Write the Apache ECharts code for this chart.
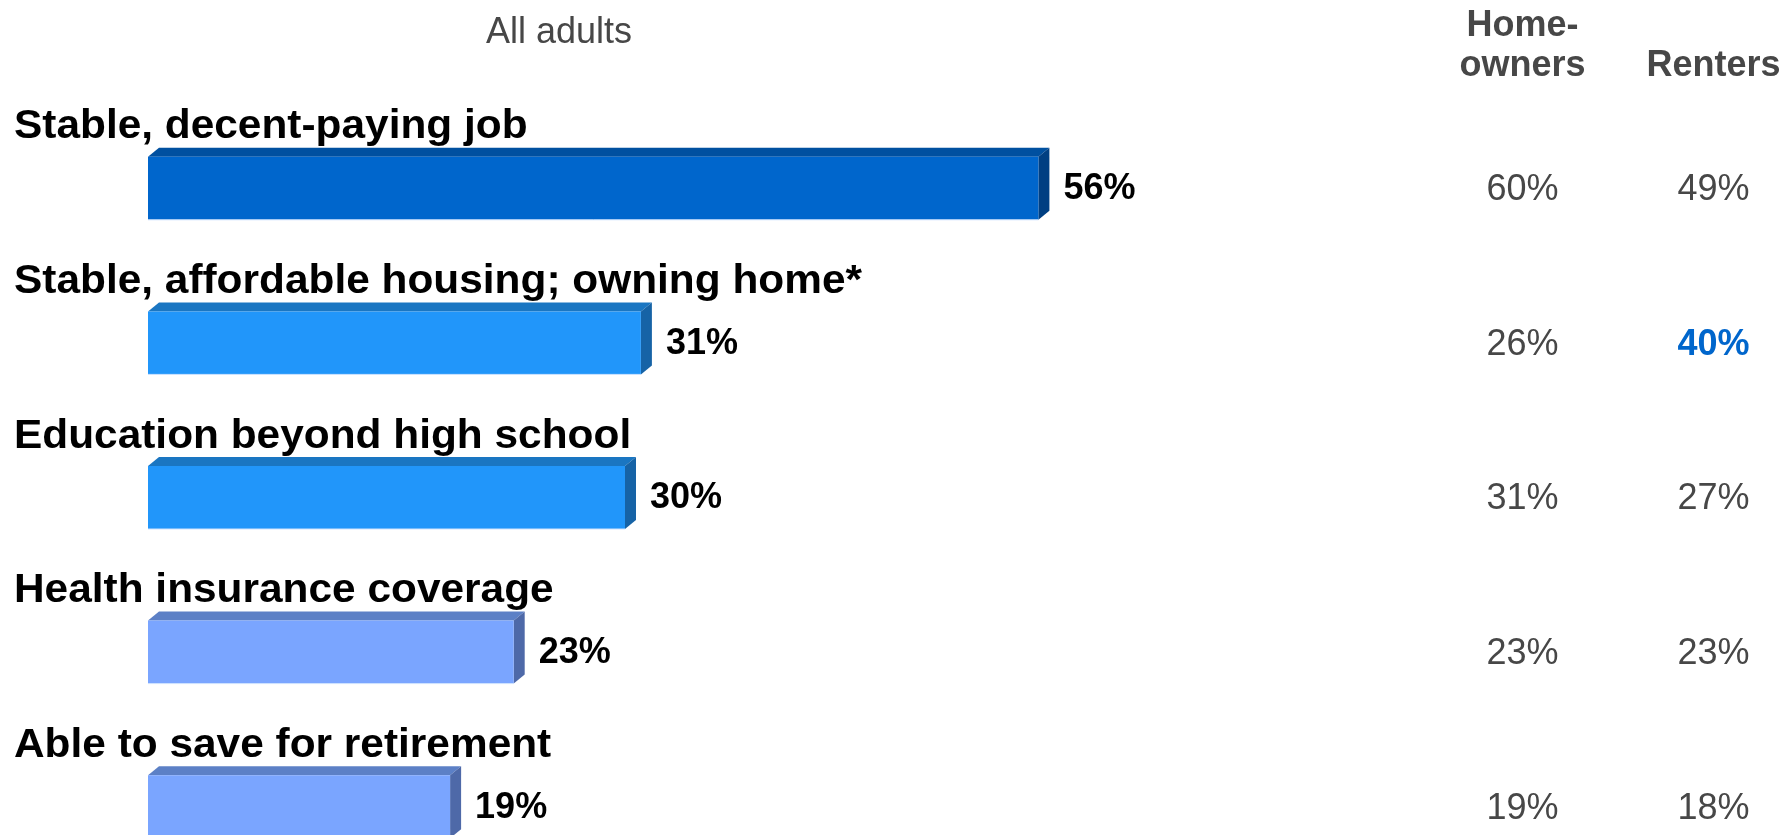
<!DOCTYPE html>
<html>
<head>
<meta charset="utf-8">
<script src="https://cdn.jsdelivr.net/npm/echarts@6/dist/echarts.min.js"></script>
<style>
html,body{margin:0;padding:0;background:#fff;}
#chart{width:1788px;height:835px;}
</style>
</head>
<body>
<div id="chart"></div>
<script>
const categories = [
  'Stable, decent-paying job',
  'Stable, affordable housing; owning home*',
  'Education beyond high school',
  'Health insurance coverage',
  'Able to save for retirement'
];
const allAdults = [56, 31, 30, 23, 19];
const homeowners = [60, 26, 31, 23, 19];
const renters = [49, 40, 27, 23, 18];
const groups = ['Home-\nowners', 'Renters'];
const colorTier = [0, 1, 1, 2, 2];
const highlight = [[1, 1]]; // [group index, row index] shown in blue bold

const palette = [
  {front: '#0066cc', top: '#0050a0', side: '#003f82'},
  {front: '#2196fa', top: '#1a76c2', side: '#1663a6'},
  {front: '#7aa5ff', top: '#5c80c6', side: '#4e69a8'}
];
const FONT = '"Liberation Sans", Arial, sans-serif';

const chart = echarts.init(document.getElementById('chart'));

const barData = allAdults.map((v, i) => [v, i]);
const colData = [];
[homeowners, renters].forEach((arr, g) => {
  arr.forEach((v, i) => {
    const hl = highlight.some(h => h[0] === g && h[1] === i) ? 1 : 0;
    colData.push([g, i, v, hl]);
  });
});

const option = {
  animation: false,
  backgroundColor: '#ffffff',
  grid: [
    {left: 148, width: 1590, top: 111, height: 773, outerBoundsMode: 'none', containLabel: false},
    {left: 1427, width: 382, top: 111, height: 773, outerBoundsMode: 'none', containLabel: false}
  ],
  xAxis: [
    {gridIndex: 0, type: 'value', min: 0, max: 100, show: false},
    {
      gridIndex: 1, type: 'category', data: groups, position: 'top',
      axisLine: {show: false}, axisTick: {show: false}, splitLine: {show: false},
      axisLabel: {
        margin: 25, fontSize: 36, fontWeight: 'bold', color: '#474747',
        lineHeight: 40, fontFamily: FONT, interval: 0
      }
    }
  ],
  yAxis: [
    {gridIndex: 0, type: 'category', data: categories, inverse: true, show: false},
    {gridIndex: 1, type: 'category', data: categories, inverse: true, show: false}
  ],
  graphic: [{
    type: 'text', x: 559, y: 33,
    style: {text: 'All adults', fill: '#474747', font: '36px ' + FONT, align: 'center', verticalAlign: 'middle'}
  }],
  series: [
    {
      type: 'custom',
      xAxisIndex: 0, yAxisIndex: 0,
      data: barData,
      renderItem: function (params, api) {
        const v = api.value(0);
        const idx = api.value(1);
        const s = api.coord([0, idx]);
        const e = api.coord([v, idx]);
        const h = 63, dx = 11, dy = 9;
        const x0 = s[0], x1 = e[0];
        const top = s[1] - h / 2, bot = s[1] + h / 2;
        const c = palette[colorTier[idx]];
        return {
          type: 'group',
          children: [
            {type: 'polygon', shape: {points: [[x0, top], [x0 + dx, top - dy], [x1 + dx, top - dy], [x1, top]]}, style: {fill: c.top}},
            {type: 'polygon', shape: {points: [[x1, top], [x1 + dx, top - dy], [x1 + dx, bot - dy], [x1, bot]]}, style: {fill: c.side}},
            {type: 'rect', shape: {x: x0, y: top, width: x1 - x0, height: h}, style: {fill: c.front}},
            {type: 'line', shape: {x1: x0, y1: bot, x2: x1, y2: bot}, style: {stroke: '#cfe3ff', lineWidth: 1}},
            {type: 'text', x: x1 + dx + 14, y: s[1] + 1,
              style: {text: v + '%', fill: '#000', font: 'bold 36px ' + FONT, align: 'left', verticalAlign: 'middle'}},
            {type: 'text', x: x0 - 134, y: s[1] - 61, scaleX: 1.06,
              style: {text: categories[idx], fill: '#000', font: 'bold 40px ' + FONT, align: 'left', verticalAlign: 'middle'}}
          ]
        };
      }
    },
    {
      type: 'custom',
      xAxisIndex: 1, yAxisIndex: 1,
      data: colData,
      renderItem: function (params, api) {
        const p = api.coord([api.value(0), api.value(1)]);
        const hl = api.value(3) === 1;
        return {
          type: 'text', x: p[0], y: p[1] + 2,
          style: {
            text: api.value(2) + '%',
            fill: hl ? '#0066cc' : '#474747',
            font: (hl ? 'bold ' : '') + '36px ' + FONT,
            align: 'center', verticalAlign: 'middle'
          }
        };
      }
    }
  ]
};
chart.setOption(option);
</script>
</body>
</html>
